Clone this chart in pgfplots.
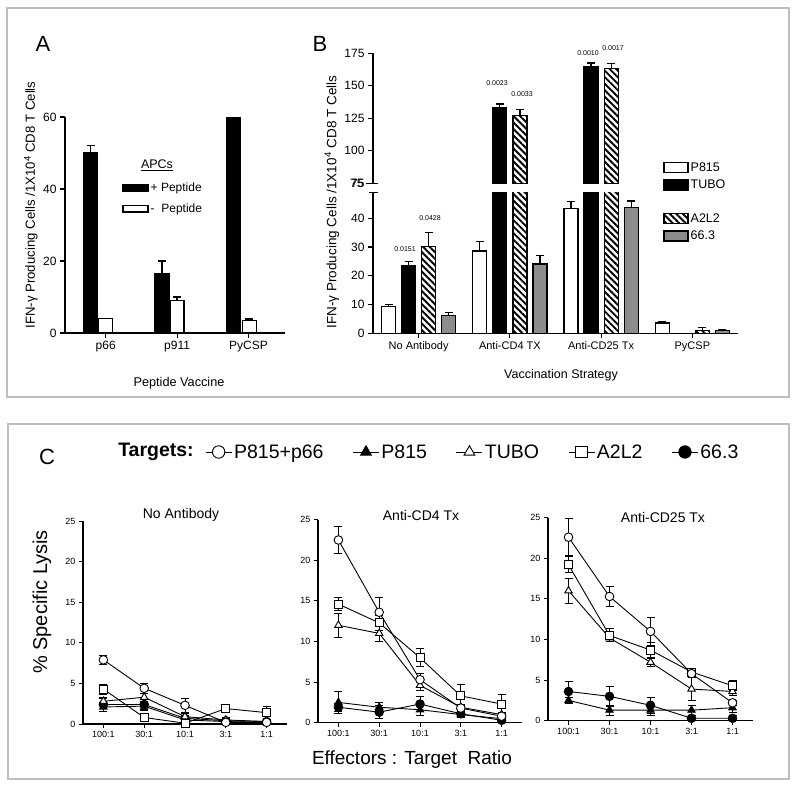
\documentclass[border=0pt]{standalone}
\usepackage{pgfplots}
\pgfplotsset{compat=1.18}
\usepackage{pgfplotstable}
\usepackage{fontspec}
\setmainfont{Liberation Sans}
\usetikzlibrary{patterns.meta}
\newcommand{\fs}[1]{\fontsize{#1}{#1}\selectfont}

% panel A
\pgfplotstableread{
x    y    e
0.79 50   2
1.79 16.5 3.5
2.79 60   0
}\dataAplus
\pgfplotstableread{
x    y    e
1.00 4    0
2.00 9    1
3.01 3.5  0.4
}\dataAminus

% panel B: x = group + offset
\pgfplotstableread{
x     y     e
-0.33 9.3   0.6
0.67  28.6  3.3
1.67  43.5  2.3
2.67  3.6   0.3
}\dataBwhite
\pgfplotstableread{
x     y     e
-0.11 23.4  1.5
0.89  133   3
1.89  165   2.5
}\dataBblack
\pgfplotstableread{
x     y     e
0.11  30.1  4.9
1.11  127   4.5
2.11  163.2 4
3.11  0.9   1.2
}\dataBhatch
\pgfplotstableread{
x     y     e
0.33  6.1   1.1
1.33  24.1  2.9
2.33  43.8  2.2
3.33  0.9   0.3
}\dataBgray

% panel C
\pgfplotstableread{
x c   ce  s   se  to  toe tf  tfe f   fe
0 7.9 0.6 4.3 0.6 2.8 0.5 2.1 0.6 2.4 0.8
1 4.4 0.6 0.8 0.4 3.3 0.5 2.2 0.5 2.4 0.6
2 2.3 0.9 0.1 0.3 0.9 0.4 0.5 0.3 0.7 0.4
3 0.2 0.2 1.9 0.3 0.5 0.3 0.3 0.2 0.4 0.3
4 0.2 0.2 1.4 0.8 0.3 0.2 0.2 0.2 0.3 0.2
}\dataCa
\pgfplotstableread{
x c    ce  s    se  to   toe tf  tfe f   fe
0 22.5 1.7 14.6 0.8 12.0 1.5 2.5 1.3 1.9 0.5
1 13.6 1.8 12.3 0.9 11.0 1.0 1.9 0.6 1.3 0.8
2 5.3  0.8 8.0  1.1 4.6  0.6 1.6 0.7 2.3 0.9
3 1.8  0.3 3.3  1.4 1.9  0.3 1.0 0.3 1.1 0.3
4 0.8  0.3 2.3  1.2 1.0  0.3 0.5 0.3 0.3 0.2
}\dataCb
\pgfplotstableread{
x c    ce  s    se  to   toe tf  tfe f   fe
0 22.6 2.3 19.2 1.0 16.0 1.5 2.5 0.4 3.6 1.2
1 15.3 1.2 10.5 0.8 10.2 0.5 1.3 0.6 3.0 1.2
2 11.0 1.7 8.7  0.9 7.2  0.5 1.3 0.6 1.9 1.0
3 5.8  0.4 6.0  0.4 3.9  1.4 1.3 0.6 0.3 0.3
4 2.2  0.3 4.3  0.6 3.6  0.5 1.6 0.6 0.3 0.3
}\dataCc

\pgfplotsset{
  gp/.style={
    scale only axis,
    axis x line=bottom, axis y line=left,
    axis line style={-, line width=1.3pt},
    tick align=outside,
    major tick length=5pt,
    tick style={black, line width=1.1pt},
    /pgf/number format/assume math mode=true,
  },
  barbase/.style={ybar, bar shift=0pt, draw=black, line width=1.3pt,
    error bars/y dir=plus, error bars/y explicit,
    error bars/error bar style={line width=1.3pt, black},
    error bars/error mark options={rotate=90, line width=1.3pt, mark size=4pt, black}},
  wbar/.style={barbase, fill=white},
  kbar/.style={barbase, fill=black},
  hbar/.style={barbase, fill=white, pattern={Lines[angle=-45,distance=4.6pt,line width=1.9pt]}},
  gbar/.style={barbase, fill=black!45},
  cline/.style={black, line width=0.9pt, mark size=4.3pt,
    error bars/y dir=both, error bars/y explicit,
    error bars/error bar style={line width=0.9pt, black},
    error bars/error mark options={rotate=90, line width=0.9pt, mark size=4pt, black}},
  cCo/.style={cline, mark=*, mark options={fill=white, draw=black, line width=0.9pt}},
  cCf/.style={cline, mark=*, mark options={fill=black, draw=black}},
  cTo/.style={cline, mark=triangle*, mark options={fill=white, draw=black, line width=0.9pt}},
  cTf/.style={cline, mark=triangle*, mark options={fill=black, draw=black}},
  cSo/.style={cline, mark=square*, mark size=4pt, mark options={fill=white, draw=black, line width=0.9pt}},
  cax/.style={gp, width=204pt, height=203pt, xmin=-0.5, xmax=4.5, ymin=0, ymax=25,
    ytick={0,5,...,25}, xtick={0,...,4}, xticklabels={100:1,30:1,10:1,3:1,1:1},
    tick label style={font=\fs{9}}, major tick length=4pt,
    axis line style={-, line width=1.2pt}, tick style={black, line width=1pt}},
}

\begin{document}
\begin{tikzpicture}[x=1pt,y=1pt]
\path[use as bounding box] (0,0) rectangle (800,793);
\draw[gray!50, line width=1.3pt] (7,396) rectangle (789,785);
\draw[gray!50, line width=1.3pt] (8,14) rectangle (789,369);

% ---------- A ----------
\begin{axis}[gp, at={(65pt,460pt)}, anchor=south west,
  width=220pt, height=216pt,
  xmin=0.43, xmax=3.51, ymin=0, ymax=60,
  ytick={0,20,40,60}, xtick={1,2,3}, xticklabels={p66,p911,PyCSP},
  tick label style={font=\fs{12}},
  legend image code/.code={\draw[#1] (0pt,-3.3pt) rectangle (25pt,3.3pt);},
  legend style={draw=none, fill=none, at={(axis description cs:0.26,0.705)},
    anchor=north west, font=\fs{12}, row sep=6.5pt, inner sep=0pt},
  legend cell align=left]
\addplot[kbar, bar width=14pt] table[x=x,y=y,y error=e] {\dataAplus};
\addlegendentry{+ Peptide}
\addplot[wbar, bar width=14pt] table[x=x,y=y,y error=e] {\dataAminus};
\addlegendentry{-\ \ Peptide}
\end{axis}
\node[font=\fs{12.5}] at (157,628) {\underline{APCs}};
\node[font=\fs{22}] at (43,749) {A};
\node[rotate=90, font=\fs{13.2}] at (31,588) {IFN-γ Producing Cells /1X10\textsuperscript{4} CD8 T Cells};
\node[font=\fs{12.7}] at (179,410) {Peptide Vaccine};

% ---------- B lower ----------
\begin{axis}[gp, at={(373pt,459.7pt)}, anchor=south west,
  width=365pt, height=140.3pt,
  xmin=-0.5, xmax=3.5, ymin=0, ymax=48.8,
  ytick={0,10,...,40}, xtick={0,1,2,3},
  xticklabels={No Antibody,Anti-CD4 TX,Anti-CD25 Tx,PyCSP},
  tick label style={font=\fs{11}},
  yticklabel style={font=\fs{12}},
  legend image code/.code={\draw[#1] (0pt,-5pt) rectangle (24pt,5pt);},
  legend style={draw=none, fill=none, at={(axis description cs:0.795,1.232)},
    anchor=north west, font=\fs{12.5}, row sep=3pt, inner sep=0pt,
    nodes={inner sep=2pt}},
  legend cell align=left]
\addplot[wbar, bar width=14pt] table[x=x,y=y,y error=e] {\dataBwhite};
\addlegendentry{P815}
\addplot[kbar, bar width=14pt] table[x=x,y=y,y error=e] {\dataBblack};
\addlegendentry{TUBO}
\addlegendimage{empty legend}
\addlegendentry{\rule{0pt}{8pt}}
\addplot[hbar, bar width=14pt] table[x=x,y=y,y error=e] {\dataBhatch};
\addlegendentry{A2L2}
\addplot[gbar, bar width=14pt] table[x=x,y=y,y error=e] {\dataBgray};
\addlegendentry{66.3}
\end{axis}

% ---------- B upper (only the tall bars reach it) ----------
\begin{axis}[gp, at={(373pt,609.7pt)}, anchor=south west,
  width=365pt, height=130pt, hide x axis,
  xmin=-0.5, xmax=3.5, ymin=75, ymax=175,
  ytick={75,100,125,150,175},
  tick label style={font=\fs{12}}]
\addplot[kbar, bar width=14pt, skip coords between index={0}{1}]
  table[x=x,y=y,y error=e] {\dataBblack};
\addplot[hbar, bar width=14pt, skip coords between index={0}{1}, skip coords between index={3}{4}]
  table[x=x,y=y,y error=e] {\dataBhatch};
\end{axis}
\draw[line width=1.2pt] (369,600.3) -- (378,600.3);
\draw[line width=1.2pt] (366,609.7) -- (378,609.7);
\node[anchor=east, font=\fs{12}, text=black] at (367,609.7) {75};
\node[font=\fs{22}] at (320,749) {B};
\node[rotate=90, font=\fs{13.5}] at (332,591) {IFN-γ Producing Cells /1X10\textsuperscript{4} CD8 T Cells};
\node[font=\fs{12.5}] at (561,418) {Vaccination Strategy};
\begin{scope}[font=\fs{7}]
\node at (405,544) {0.0151};
\node at (430,575) {0.0428};
\node at (497,710) {0.0023};
\node at (522,699) {0.0033};
\node at (588,740) {0.0010};
\node at (613,745) {0.0017};
\end{scope}

% ---------- C ----------
\begin{axis}[cax, at={(83pt,69pt)}, anchor=south west,
  legend image code/.code={\draw[mark repeat=2,mark phase=2,#1] plot coordinates {(0pt,0pt)(13pt,0pt)(26pt,0pt)};},
  legend columns=-1,
  legend style={draw=none, fill=none, at={(axis description cs:0.598,1.34)},
    anchor=west, font=\fs{19.5}, inner sep=0pt,
    /tikz/every even column/.append style={column sep=27pt}}]
\addlegendimage{black, line width=0.9pt, mark=*, mark size=6.2pt, mark options={fill=white}}
\addlegendentry{P815+p66}
\addlegendimage{black, line width=0.9pt, mark=triangle*, mark size=6.2pt, mark options={fill=black}}
\addlegendentry{P815}
\addlegendimage{black, line width=0.9pt, mark=triangle*, mark size=6.2pt, mark options={fill=white}}
\addlegendentry{TUBO}
\addlegendimage{black, line width=0.9pt, mark=square*, mark size=5.8pt, mark options={fill=white}}
\addlegendentry{A2L2}
\addlegendimage{black, line width=0.9pt, mark=*, mark size=6.2pt, mark options={fill=black}}
\addlegendentry{66.3}
\addplot[cCf, forget plot] table[x=x,y=f,y error=fe] {\dataCa};
\addplot[cTf, forget plot] table[x=x,y=tf,y error=tfe] {\dataCa};
\addplot[cTo, forget plot] table[x=x,y=to,y error=toe] {\dataCa};
\addplot[cSo, forget plot] table[x=x,y=s,y error=se] {\dataCa};
\addplot[cCo, forget plot] table[x=x,y=c,y error=ce] {\dataCa};
\end{axis}
\begin{axis}[cax, at={(318pt,70.3pt)}, anchor=south west]
\addplot[cCf] table[x=x,y=f,y error=fe] {\dataCb};
\addplot[cTf] table[x=x,y=tf,y error=tfe] {\dataCb};
\addplot[cTo] table[x=x,y=to,y error=toe] {\dataCb};
\addplot[cSo] table[x=x,y=s,y error=se] {\dataCb};
\addplot[cCo] table[x=x,y=c,y error=ce] {\dataCb};
\end{axis}
\begin{axis}[cax, at={(548pt,72.3pt)}, anchor=south west, width=205pt]
\addplot[cCf] table[x=x,y=f,y error=fe] {\dataCc};
\addplot[cTf] table[x=x,y=tf,y error=tfe] {\dataCc};
\addplot[cTo] table[x=x,y=to,y error=toe] {\dataCc};
\addplot[cSo] table[x=x,y=s,y error=se] {\dataCc};
\addplot[cCo] table[x=x,y=c,y error=ce] {\dataCc};
\end{axis}
\node[font=\fs{22}] at (47,336) {C};
\node[font=\bfseries\fs{19.5}] at (156,341) {Targets:};
\node[font=\fs{14}] at (181,278) {No Antibody};
\node[font=\fs{14}] at (421,278) {Anti-CD4 Tx};
\node[font=\fs{14}] at (663,276) {Anti-CD25 Tx};
\node[rotate=90, font=\fs{20}] at (42,191) {\% Specific Lysis};
\node[font=\fs{19}] at (412,33) {Effectors : Target\ \ Ratio};
\end{tikzpicture}
\end{document}
